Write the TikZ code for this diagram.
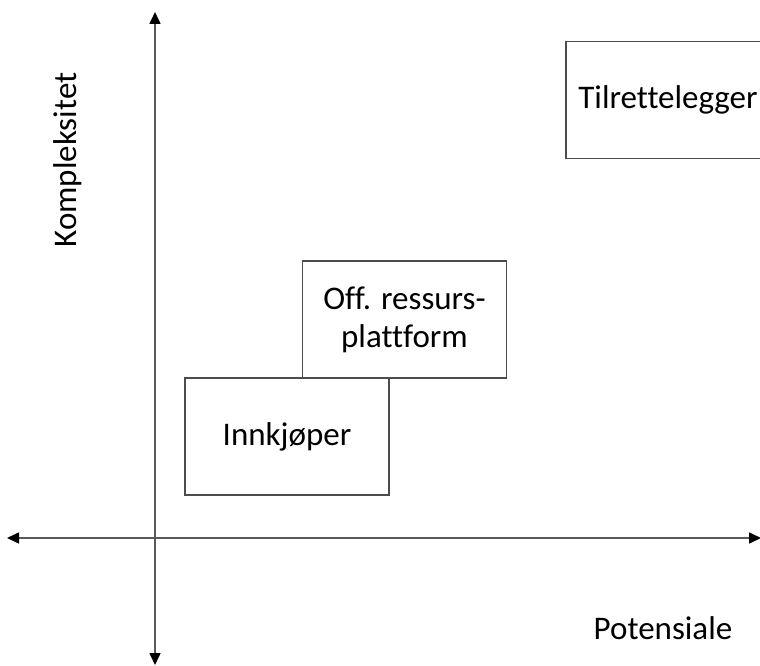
\documentclass[tikz,border=0pt]{standalone}
\usepackage{fontspec}
\setmainfont[Ligatures={NoCommon}]{Carlito}
\usetikzlibrary{arrows.meta}
\begin{document}
\begin{tikzpicture}[x=1pt,y=-1pt,
  box/.style={draw=black!70,line width=1.6pt,fill=white,minimum width=204pt,minimum height=117pt,inner sep=0pt,align=center,font=\fontsize{33}{38}\selectfont},
  axis/.style={draw=black!65,line width=1.6pt,{Triangle[length=12pt,width=11pt,black]}-{Triangle[length=12pt,width=11pt,black]}},
  lbl/.style={font=\fontsize{33}{38}\selectfont,inner sep=0pt}]
\useasboundingbox (0,0) rectangle (760,666);
\begin{scope}
\clip (0,0) rectangle (760,666);
\coordinate (yt) at (155,12);
\coordinate (yb) at (155,665);
\coordinate (xl) at (7,538);
\coordinate (xr) at (761,538);
\draw[axis] (yb) -- (yt);
\draw[axis] (xl) -- (xr);
\node[box] (inn) at (287,436.5) {Innkjøper};
\node[box] (off) at (404.5,319.5) {Off. ressurs-\\plattform};
\node[box] (til) at (668,100) {Tilrettelegger};
\node[lbl,rotate=90] (k) at (68,160) {Kompleksitet};
\node[lbl] (p) at (663,628) {Potensiale};
\end{scope}
\end{tikzpicture}
\end{document}
